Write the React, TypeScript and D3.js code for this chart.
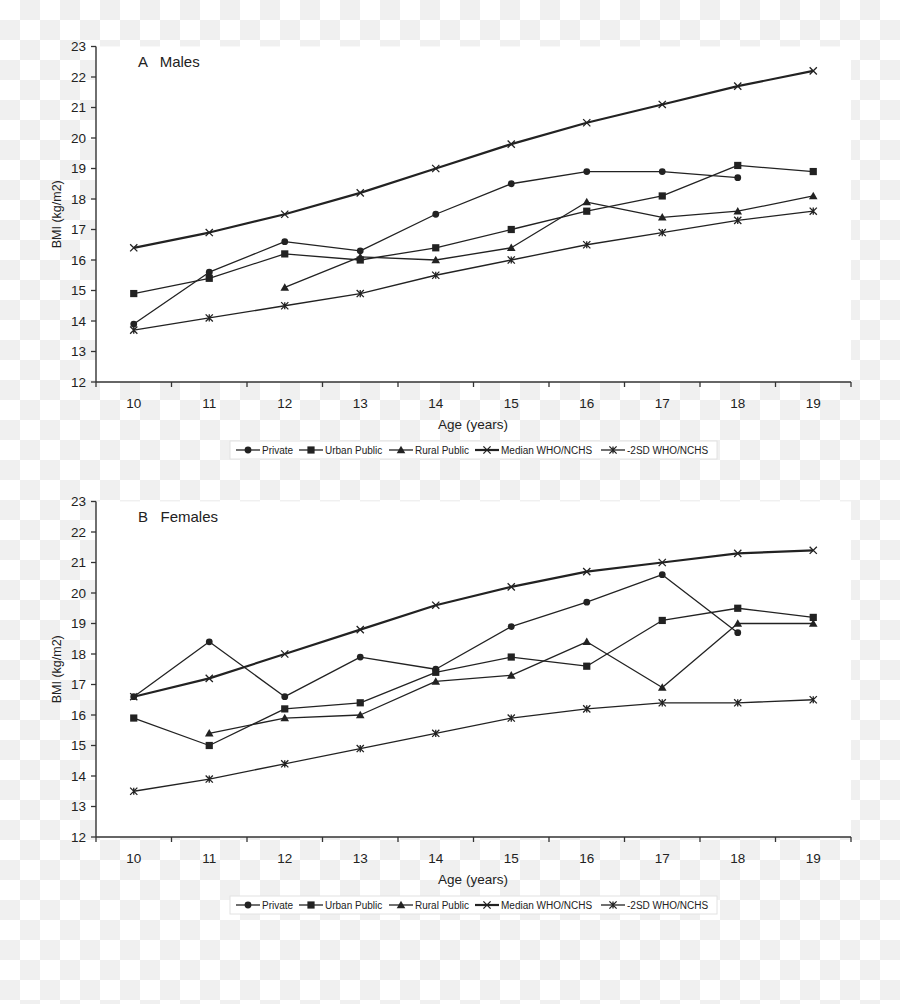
import React from "react";
import * as d3 from "d3";

type V = number | null;

const ages: number[] = [10, 11, 12, 13, 14, 15, 16, 17, 18, 19];
const yTicks: number[] = [12, 13, 14, 15, 16, 17, 18, 19, 20, 21, 22, 23];
const seriesNames: string[] = ["Private", "Urban Public", "Rural Public", "Median WHO/NCHS", "-2SD WHO/NCHS"];
const markerTypes: string[] = ["circle", "square", "triangle", "x", "star"];

const malePrivate: V[] = [13.9, 15.6, 16.6, 16.3, 17.5, 18.5, 18.9, 18.9, 18.7, null];
const maleUrban: V[] = [14.9, 15.4, 16.2, 16.0, 16.4, 17.0, 17.6, 18.1, 19.1, 18.9];
const maleRural: V[] = [null, null, 15.1, 16.1, 16.0, 16.4, 17.9, 17.4, 17.6, 18.1];
const maleMedian: V[] = [16.4, 16.9, 17.5, 18.2, 19.0, 19.8, 20.5, 21.1, 21.7, 22.2];
const male2SD: V[] = [13.7, 14.1, 14.5, 14.9, 15.5, 16.0, 16.5, 16.9, 17.3, 17.6];

const femalePrivate: V[] = [16.6, 18.4, 16.6, 17.9, 17.5, 18.9, 19.7, 20.6, 18.7, null];
const femaleUrban: V[] = [15.9, 15.0, 16.2, 16.4, 17.4, 17.9, 17.6, 19.1, 19.5, 19.2];
const femaleRural: V[] = [null, 15.4, 15.9, 16.0, 17.1, 17.3, 18.4, 16.9, 19.0, 19.0];
const femaleMedian: V[] = [16.6, 17.2, 18.0, 18.8, 19.6, 20.2, 20.7, 21.0, 21.3, 21.4];
const female2SD: V[] = [13.5, 13.9, 14.4, 14.9, 15.4, 15.9, 16.2, 16.4, 16.4, 16.5];

const W = 900;
const H = 1004;
const plotLeft = 96;
const plotRight = 851;
const plotH = 335.5;
const ink = "#222";
const font = "Liberation Sans, Arial, sans-serif";

function Marker({ type, x, y }: { type: string; x: number; y: number }) {
  const s = 3.6;
  switch (type) {
    case "circle":
      return <circle cx={x} cy={y} r={3.4} fill={ink} />;
    case "square":
      return <rect x={x - s} y={y - s} width={2 * s} height={2 * s} fill={ink} />;
    case "triangle":
      return <path d={`M${x},${y - 4.3}L${x + 4.3},${y + 3.3}L${x - 4.3},${y + 3.3}Z`} fill={ink} />;
    case "x":
      return (
        <path
          d={`M${x - s},${y - s}L${x + s},${y + s}M${x - s},${y + s}L${x + s},${y - s}`}
          stroke={ink}
          strokeWidth={1.3}
          fill="none"
        />
      );
    default:
      return (
        <path
          d={`M${x - s},${y - s}L${x + s},${y + s}M${x - s},${y + s}L${x + s},${y - s}M${x},${y - s}L${x},${y + s}`}
          stroke={ink}
          strokeWidth={1.3}
          fill="none"
        />
      );
  }
}

function Legend({ y }: { y: number }) {
  const boxX = 230;
  const boxW = 487;
  const itemX = [236, 299, 389, 475, 601];
  const lineLen = 24;
  return (
    <g>
      <rect x={boxX} y={y - 9} width={boxW} height={18} fill="#fff" stroke="#e2e2e2" strokeWidth={1} />
      {seriesNames.map((name, i) => (
        <g key={name}>
          <line
            x1={itemX[i]}
            x2={itemX[i] + lineLen}
            y1={y}
            y2={y}
            stroke={ink}
            strokeWidth={i === 3 ? 2.2 : 1.3}
          />
          <Marker type={markerTypes[i]} x={itemX[i] + lineLen / 2} y={y} />
          <text x={itemX[i] + lineLen + 2} y={y + 3.6} fontSize={10} fill={ink} fontFamily={font}>
            {name}
          </text>
        </g>
      ))}
    </g>
  );
}

function Panel({ top, title, series }: { top: number; title: string; series: V[][] }) {
  const x = d3.scaleBand<number>().domain(ages).range([plotLeft, plotRight]);
  const y = d3.scaleLinear().domain([12, 23]).range([top + plotH, top]);
  const cx = (a: number) => (x(a) as number) + x.bandwidth() / 2;
  const line = d3
    .line<V>()
    .defined((d) => d !== null)
    .x((_, i) => cx(ages[i]))
    .y((d) => y(d as number));
  const bottom = top + plotH;
  const boundaries = ages.map((a) => x(a) as number).concat([plotRight]);
  return (
    <g>
      <rect x={plotLeft} y={top} width={plotRight - plotLeft} height={plotH} fill="#fff" />
      {/* y axis */}
      <line x1={plotLeft} x2={plotLeft} y1={top} y2={bottom} stroke="#333" strokeWidth={1.4} />
      {yTicks.map((t) => (
        <g key={t}>
          <line x1={plotLeft - 5} x2={plotLeft} y1={y(t)} y2={y(t)} stroke="#333" strokeWidth={1.3} />
          <text x={plotLeft - 10} y={y(t) + 4.8} textAnchor="end" fontSize={13.5} fill={ink} fontFamily={font}>
            {t}
          </text>
        </g>
      ))}
      {/* x axis */}
      <line x1={plotLeft} x2={plotRight} y1={bottom} y2={bottom} stroke="#333" strokeWidth={1.4} />
      {boundaries.map((b, i) => (
        <line key={i} x1={b} x2={b} y1={bottom} y2={bottom + 5} stroke="#333" strokeWidth={1.3} />
      ))}
      {ages.map((a) => (
        <text key={a} x={cx(a)} y={bottom + 25.5} textAnchor="middle" fontSize={13.5} fill={ink} fontFamily={font}>
          {a}
        </text>
      ))}
      <text x={473} y={bottom + 47} textAnchor="middle" fontSize={13.5} fill={ink} fontFamily={font}>
        Age (years)
      </text>
      <text
        transform={`translate(61, ${(top + bottom) / 2}) rotate(-90)`}
        textAnchor="middle"
        fontSize={12.5}
        fill={ink}
        fontFamily={font}
      >
        BMI (kg/m2)
      </text>
      <text x={138} y={top + 20.5} fontSize={15} fill={ink} fontFamily={font} xmlSpace="preserve">
        {title}
      </text>
      {series.map((s, si) => (
        <g key={si}>
          <path d={line(s) || ""} fill="none" stroke={ink} strokeWidth={si === 3 ? 2.2 : 1.3} strokeLinejoin="round" />
          {s.map((v, i) =>
            v === null ? null : <Marker key={i} type={markerTypes[si]} x={cx(ages[i])} y={y(v)} />
          )}
        </g>
      ))}
      <Legend y={bottom + 68} />
    </g>
  );
}

export default function App() {
  return (
    <svg
      width={W}
      height={H}
      style={{ position: "absolute", left: 0, top: 0, display: "block" }}
      xmlns="http://www.w3.org/2000/svg"
    >
      <defs>
        <pattern id="checker" width={40} height={40} patternUnits="userSpaceOnUse">
          <rect width={40} height={40} fill="#fff" />
          <rect x={20} y={0} width={20} height={20} fill="#f0f0f0" />
          <rect x={0} y={20} width={20} height={20} fill="#f0f0f0" />
        </pattern>
      </defs>
      <rect width={W} height={H} fill="url(#checker)" />
      <Panel top={46.5} title={"A   Males"} series={[malePrivate, maleUrban, maleRural, maleMedian, male2SD]} />
      <Panel top={501.5} title={"B   Females"} series={[femalePrivate, femaleUrban, femaleRural, femaleMedian, female2SD]} />
    </svg>
  );
}
